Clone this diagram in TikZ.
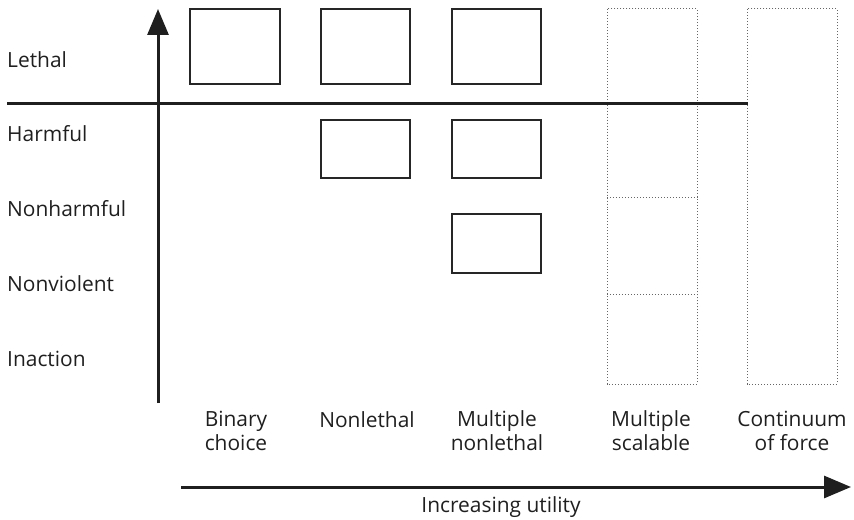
\documentclass[tikz,border=0pt]{standalone}
\usepackage{fontspec}
\setmainfont{Open Sans}
\usetikzlibrary{arrows.meta}
\begin{document}
\begin{tikzpicture}[x=1bp,y=-1bp,
  solidbox/.style={draw=black!85,line width=2.2bp,inner sep=0pt},
  dotbox/.style={draw=black!60,line width=1bp,dotted},
  axis/.style={draw=black!88,line width=3bp},
  lbl/.style={font=\fontsize{21}{23.5}\selectfont,text=black!88,inner sep=0pt},
  collbl/.style={lbl,align=center,anchor=base}]
\useasboundingbox (0,0) rectangle (854,520);
% solid boxes
\node[solidbox,minimum width=90bp,minimum height=75bp] (b1) at (235,46.5) {};
\node[solidbox,minimum width=89bp,minimum height=75bp] (b2) at (365.5,46.5) {};
\node[solidbox,minimum width=89bp,minimum height=75bp] (b3) at (496.5,46.5) {};
\node[solidbox,minimum width=89bp,minimum height=58bp] (b4) at (365.5,149) {};
\node[solidbox,minimum width=89bp,minimum height=58bp] (b5) at (496.5,149) {};
\node[solidbox,minimum width=89bp,minimum height=59bp] (b6) at (496.5,243.5) {};
% dotted boxes
\draw[dotbox] (607,9) rectangle (697,384);
\draw[dotbox] (607,198) -- (697,198);
\draw[dotbox] (607,295) -- (697,295);
\draw[dotbox] (747,9) rectangle (837,384);
% axes
\coordinate (vb) at (158,403);
\coordinate (vt) at (158,9);
\draw[axis,-{Triangle[length=26bp,width=21bp]}] (vb) -- (vt);
\coordinate (hl) at (7,104);
\coordinate (hr) at (748,104);
\draw[axis] (hl) -- (hr);
\coordinate (ul) at (181,487);
\coordinate (ur) at (851,487);
\draw[axis,-{Triangle[length=27bp,width=22bp]}] (ul) -- (ur);
% row labels
\node[lbl,anchor=base west] (r1) at (7,68) {Lethal};
\node[lbl,anchor=base west] (r2) at (7,142) {Harmful};
\node[lbl,anchor=base west] (r3) at (7,217) {Nonharmful};
\node[lbl,anchor=base west] (r4) at (7,292) {Nonviolent};
\node[lbl,anchor=base west] (r5) at (7,366) {Inaction};
% column labels
\node[collbl] (c1) at (236,450) {Binary\\choice};
\node[collbl] (c2) at (367,427) {Nonlethal};
\node[collbl] (c3) at (497,450) {Multiple\\nonlethal};
\node[collbl] (c4) at (651,450) {Multiple\\scalable};
\node[collbl] (c5) at (792,450) {Continuum\\of force};
\node[lbl,anchor=base] (ut) at (501,512) {Increasing utility};
\end{tikzpicture}
\end{document}
